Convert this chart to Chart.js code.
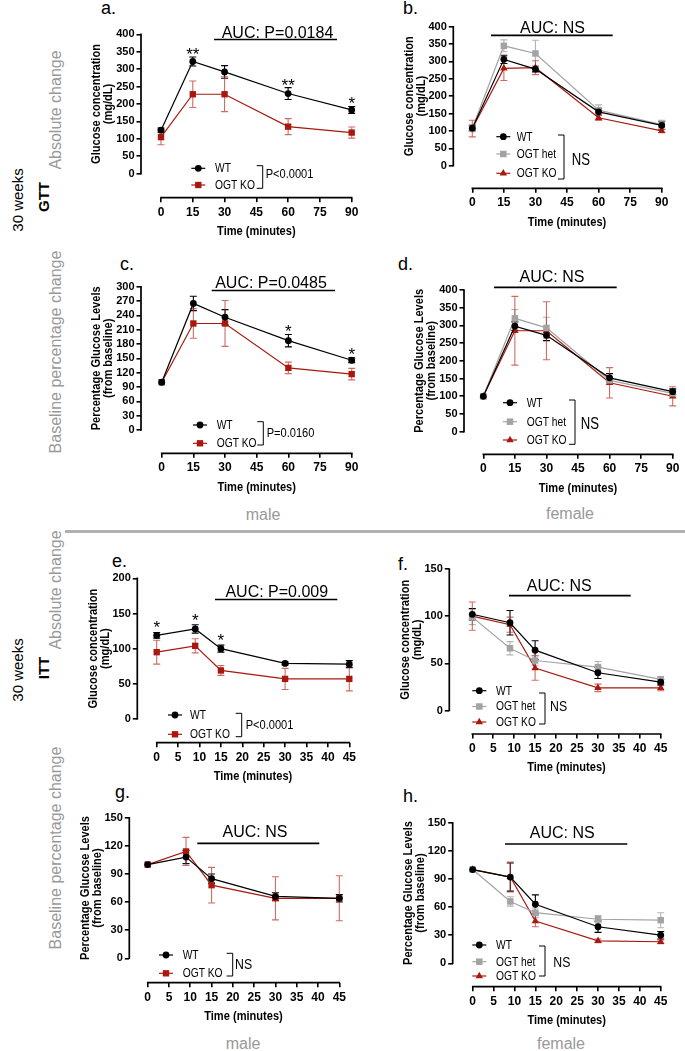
<!DOCTYPE html>
<html><head><meta charset="utf-8">
<script src="https://cdn.jsdelivr.net/npm/chart.js@4.4.0/dist/chart.umd.min.js"></script>
<style>
html,body{margin:0;padding:0;background:#fff;}
#page{position:relative;width:685px;height:1051px;overflow:hidden;background:#fff;}
#page canvas{position:absolute;left:0;top:0;}
.t{position:absolute;white-space:nowrap;font-family:'Liberation Sans',Arial,sans-serif;line-height:1;}
.rot{transform:translate(-50%,-50%) rotate(-90deg);}
.ctr{transform:translate(-50%,-50%);}
.side{font-size:16px;color:#999;}
.lbl{font-size:18px;color:#000;}
.sex{font-size:16px;color:#999;}
</style></head><body>
<div id="page">
  <div class="t rot" style="left:17px;top:200px;font-size:15px;">30 weeks</div>
  <div class="t rot" style="left:43px;top:197px;font-size:15px;font-weight:bold;">GTT</div>
  <div class="t rot side" style="left:56px;top:110px;">Absolute change</div>
  <div class="t rot side" style="left:56px;top:352px;">Baseline percentage change</div>
  <div class="t rot" style="left:17px;top:670px;font-size:15px;">30 weeks</div>
  <div class="t rot" style="left:43px;top:668px;font-size:15px;font-weight:bold;">ITT</div>
  <div class="t rot side" style="left:56px;top:590px;">Absolute change</div>
  <div class="t rot side" style="left:56px;top:848px;">Baseline percentage change</div>
  <div class="t lbl" style="left:101px;top:-1px;">a.</div>
  <div class="t lbl" style="left:403px;top:-1px;">b.</div>
  <div class="t lbl" style="left:120px;top:255px;">c.</div>
  <div class="t lbl" style="left:398px;top:255px;">d.</div>
  <div class="t lbl" style="left:112px;top:552px;">e.</div>
  <div class="t lbl" style="left:398px;top:555px;">f.</div>
  <div class="t lbl" style="left:115px;top:783px;">g.</div>
  <div class="t lbl" style="left:403px;top:787px;">h.</div>
  <div class="t ctr sex" style="left:263px;top:515px;">male</div>
  <div class="t ctr sex" style="left:570px;top:514px;">female</div>
  <div class="t ctr sex" style="left:243px;top:1044px;">male</div>
  <div class="t ctr sex" style="left:561px;top:1044px;">female</div>
  <div style="position:absolute;left:65px;top:530px;width:620px;height:3px;background:#b0b0b0;"></div>
</div>
<script>
// ---------- data ----------
const gttTime = [0, 15, 30, 60, 90];
const ittTime = [0, 9, 15, 30, 45];
const gttTicksX = [0, 15, 30, 45, 60, 75, 90];
const ittTicksX = [0, 5, 10, 15, 20, 25, 30, 35, 40, 45];
const ticks400 = [0, 50, 100, 150, 200, 250, 300, 350, 400];
const ticks300 = [0, 30, 60, 90, 120, 150, 180, 210, 240, 270, 300];
const ticks200 = [0, 50, 100, 150, 200];
const ticks150by50 = [0, 50, 100, 150];
const ticks150by30 = [0, 30, 60, 90, 120, 150];

// a. GTT absolute, male
const aWT = [125, 322, 292, 230, 183];
const aWTerr = [6, 13, 18, 17, 10];
const aKO = [105, 228, 228, 135, 118];
const aKOerr = [22, 38, 50, 23, 16];
const aStars = ['', '**', '', '**', '*'];
// b. GTT absolute, female
const bWT = [108, 306, 278, 155, 116];
const bWTerr = [8, 12, 8, 10, 12];
const bHet = [108, 345, 323, 160, 118];
const bHetErr = [10, 17, 38, 15, 13];
const bKO = [107, 280, 282, 138, 100];
const bKOerr = [24, 35, 20, 8, 5];
// c. GTT baseline %, male
const cWT = [100, 265, 236, 187, 146];
const cWTerr = [0, 15, 16, 13, 5];
const cKO = [100, 223, 223, 130, 117];
const cKOerr = [0, 31, 48, 12, 12];
const cStars = ['', '', '', '*', '*'];
// d. GTT baseline %, female
const dWT = [100, 298, 272, 152, 113];
const dWTerr = [0, 12, 15, 12, 8];
const dHet = [100, 320, 293, 145, 108];
const dHetErr = [0, 25, 30, 10, 8];
const dKO = [100, 285, 285, 138, 100];
const dKOerr = [0, 97, 82, 43, 27];
// e. ITT absolute, male
const eWT = [119, 128, 100, 79, 78];
const eWTerr = [4, 6, 5, 2, 5];
const eKO = [95, 104, 69, 57, 57];
const eKOerr = [17, 10, 7, 15, 17];
const eStars = ['*', '*', '*', '', ''];
// f. ITT absolute, female
const fWT = [102, 93, 64, 40, 30];
const fWTerr = [6, 13, 10, 6, 3];
const fHet = [99, 66, 53, 46, 33];
const fHetErr = [8, 7, 5, 6, 3];
const fKO = [100, 91, 45, 24, 24];
const fKOerr = [15, 8, 13, 4, 3];
// g. ITT baseline %, male
const gWT = [100, 108, 85, 66, 64];
const gWTerr = [0, 7, 5, 4, 4];
const gKO = [100, 114, 78, 64, 64];
const gKOerr = [0, 15, 19, 23, 24];
// h. ITT baseline %, female
const hWT = [100, 92, 63, 39, 30];
const hWTerr = [0, 15, 10, 6, 4];
const hHet = [100, 66, 54, 47, 46];
const hHetErr = [0, 5, 5, 4, 8];
const hKO = [100, 92, 45, 24, 23];
const hKOerr = [0, 16, 6, 2, 2];

// ---------- styles ----------
const FR = "'Liberation Sans',Arial,sans-serif";
const NARROW = 0.82;
const STY = {
  wt:    {color: '#000000', err: '#000000', shape: 'circle', r: 3.4},
  het:   {color: '#a3a3a3', err: '#b3b3b3', shape: 'rect', r: 4.6},
  koSq:  {color: '#a8180e', err: 'rgba(185,45,35,0.7)', shape: 'rect', r: 4.5},
  koTri: {color: '#a8180e', err: 'rgba(185,45,35,0.7)', shape: 'triangle', r: 4.3}
};
function S(label, data, err, st) { return {label, data, err, st: STY[st]}; }

function drawShape(ctx, shape, r, x, y, color) {
  ctx.fillStyle = color;
  ctx.beginPath();
  if (shape === 'circle') ctx.arc(x, y, r, 0, Math.PI * 2);
  else if (shape === 'rect') { const h = r * Math.SQRT1_2; ctx.rect(x - h, y - h, 2 * h, 2 * h); }
  else { ctx.moveTo(x, y - r); ctx.lineTo(x + r * 0.866, y + r * 0.5); ctx.lineTo(x - r * 0.866, y + r * 0.5); ctx.closePath(); }
  ctx.fill();
}
// condensed text (emulates a narrow face)
function nText(ctx, text, x, y, align, rot) {
  ctx.save();
  ctx.translate(x, y);
  if (rot) ctx.rotate(rot);
  ctx.scale(NARROW, 1);
  ctx.textAlign = align;
  ctx.fillText(text, 0, 0);
  ctx.restore();
}

function makePlugin(c) {
  return {
    id: 'deco',
    beforeDatasetsDraw(chart) {
      const {ctx} = chart, x = chart.scales.x, y = chart.scales.y;
      ctx.save();
      c.series.forEach((s) => {
        ctx.strokeStyle = s.st.err; ctx.lineWidth = 1.1;
        c.time.forEach((t, i) => {
          const e = s.err[i]; if (!e) return;
          const px = x.getPixelForValue(t);
          const top = y.getPixelForValue(s.data[i] + e), bot = y.getPixelForValue(s.data[i] - e);
          ctx.beginPath();
          ctx.moveTo(px, top); ctx.lineTo(px, bot);
          ctx.moveTo(px - 3.5, top); ctx.lineTo(px + 3.5, top);
          ctx.moveTo(px - 3.5, bot); ctx.lineTo(px + 3.5, bot);
          ctx.stroke();
        });
      });
      ctx.restore();
    },
    afterDraw(chart) {
      const {ctx, chartArea} = chart, x = chart.scales.x, y = chart.scales.y;
      const xMax = c.xTicks[c.xTicks.length - 1], yMax = c.yTicks[c.yTicks.length - 1];
      ctx.save();
      // axes lines
      ctx.strokeStyle = '#000'; ctx.lineWidth = 1.7; ctx.lineCap = 'butt';
      ctx.beginPath();
      ctx.moveTo(chartArea.left, y.getPixelForValue(0) + 0.8);
      ctx.lineTo(chartArea.left, y.getPixelForValue(yMax) - 0.8);
      ctx.moveTo(x.getPixelForValue(0) - 0.8, chartArea.bottom);
      ctx.lineTo(x.getPixelForValue(xMax) + 0.8, chartArea.bottom);
      ctx.stroke();
      // axis titles
      ctx.fillStyle = '#000';
      ctx.font = 'bold 13.5px ' + FR;
      ctx.textBaseline = 'middle';
      nText(ctx, 'Time (minutes)', (x.getPixelForValue(0) + x.getPixelForValue(xMax)) / 2, chartArea.bottom + 33.5, 'center');
      const cy = (y.getPixelForValue(0) + y.getPixelForValue(yMax)) / 2;
      c.yTitle.forEach((line, i) => {
        nText(ctx, line, chartArea.left - 44.5 + i * 12, cy, 'center', -Math.PI / 2);
      });
      // AUC annotation
      const a = c.auc;
      ctx.font = '16px ' + FR; ctx.textBaseline = 'alphabetic'; ctx.textAlign = 'center';
      ctx.fillText(a.text, a.cx, a.base);
      ctx.lineWidth = 1.7;
      ctx.beginPath(); ctx.moveTo(a.x1, a.barY); ctx.lineTo(a.x2, a.barY); ctx.stroke();
      // significance stars
      if (c.stars) {
        ctx.font = '17px ' + FR; ctx.textBaseline = 'alphabetic'; ctx.textAlign = 'center';
        const s0 = c.series[0];
        c.stars.marks.forEach((m, i) => {
          if (!m) return;
          const top = y.getPixelForValue(s0.data[i] + s0.err[i]);
          ctx.fillText(m, x.getPixelForValue(c.time[i]), top - c.stars.gap + 9.9);
        });
      }
      // legend
      const L = c.legend;
      ctx.font = '12.5px ' + FR; ctx.textBaseline = 'middle';
      c.series.forEach((s, i) => {
        const ly = L.ys[i];
        ctx.strokeStyle = s.st.color; ctx.lineWidth = 1.2;
        ctx.beginPath(); ctx.moveTo(L.mx - 7, ly); ctx.lineTo(L.mx + 7, ly); ctx.stroke();
        drawShape(ctx, s.st.shape, s.st.r, L.mx, ly, s.st.color);
        ctx.fillStyle = '#000';
        nText(ctx, s.label, L.tx, ly + 0.5, 'left');
      });
      const b = L.br;
      ctx.strokeStyle = '#000'; ctx.lineWidth = 1;
      ctx.beginPath();
      ctx.moveTo(b.x - 6, b.y1); ctx.lineTo(b.x, b.y1); ctx.lineTo(b.x, b.y2); ctx.lineTo(b.x - 6, b.y2);
      ctx.stroke();
      ctx.font = b.size + 'px ' + FR;
      nText(ctx, b.label, b.lx, b.ly, 'left');
      ctx.restore();
    }
  };
}

const page = document.getElementById('page');
function makePanel(L, c) {
  const cv = document.createElement('canvas');
  cv.width = 685; cv.height = 1051;
  cv.style.width = '685px'; cv.style.height = '1051px';
  page.appendChild(cv);
  const xMax = c.xTicks[c.xTicks.length - 1], yMax = c.yTicks[c.yTicks.length - 1];
  const xPer = (L.x1 - L.x0) / xMax, yPer = (L.y0 - L.y1) / yMax;
  const xMin = -(L.x0 - L.axX) / xPer, yMin = -(L.axY - L.y0) / yPer;
  const YW = 40, XH = 40;
  new Chart(cv, {
    type: 'line',
    data: {
      datasets: c.series.map(s => ({
        label: s.label,
        data: c.time.map((t, i) => ({x: t, y: s.data[i]})),
        borderColor: s.st.color, backgroundColor: s.st.color,
        borderWidth: 1.2, pointStyle: s.st.shape, pointRadius: s.st.r,
        pointBorderWidth: 0, pointHoverRadius: s.st.r, tension: 0, clip: false, fill: false
      }))
    },
    options: {
      responsive: false, animation: false, events: [],
      layout: {padding: {left: L.axX - YW, right: 685 - L.x1, top: L.y1, bottom: 1051 - L.axY - XH}},
      plugins: {legend: {display: false}, tooltip: {enabled: false}},
      scales: {
        x: {
          type: 'linear', min: xMin, max: xMax,
          afterBuildTicks: s => { s.ticks = c.xTicks.map(v => ({value: v})); },
          afterFit: s => { s.height = XH; },
          grid: {drawOnChartArea: false, drawTicks: true, tickLength: 4.5, lineWidth: 1.6, tickWidth: 1.6, tickColor: '#000', color: '#000'},
          border: {display: false},
          ticks: {autoSkip: false, maxRotation: 0, padding: 3, color: '#000', font: {family: FR, size: 12, weight: 'bold'}}
        },
        y: {
          type: 'linear', min: yMin, max: yMax,
          afterBuildTicks: s => { s.ticks = c.yTicks.map(v => ({value: v})); },
          afterFit: s => { s.width = YW; },
          grid: {drawOnChartArea: false, drawTicks: true, tickLength: 4.5, lineWidth: 1.6, tickWidth: 1.6, tickColor: '#000', color: '#000'},
          border: {display: false},
          ticks: {autoSkip: false, padding: 2, color: '#000', font: {family: FR, size: 11, weight: 'bold'}}
        }
      }
    },
    plugins: [makePlugin(c)]
  });
}

const gTitle = ['Glucose concentration', '(mg/dL)'];
const pTitle = ['Percentage Glucose Levels', '(from baseline)'];

makePanel({axX: 141, x0: 161, x1: 351.7, axY: 197.7, y0: 173.7, y1: 34.3}, {
  time: gttTime, xTicks: gttTicksX, yTicks: ticks400, yTitle: gTitle,
  series: [S('WT', aWT, aWTerr, 'wt'), S('OGT KO', aKO, aKOerr, 'koSq')],
  auc: {text: 'AUC: P=0.0184', cx: 277.5, base: 37.7, barY: 39.5, x1: 214, x2: 337},
  legend: {mx: 198.3, tx: 215, ys: [168.3, 185], br: {x: 262.7, y1: 165.7, y2: 188.3, label: 'P<0.0001', lx: 265.7, ly: 174.3, size: 13.5}},
  stars: {marks: aStars, gap: 7}
});
makePanel({axX: 453.3, x0: 472.3, x1: 661.7, axY: 188.3, y0: 165.7, y1: 26.7}, {
  time: gttTime, xTicks: gttTicksX, yTicks: ticks400, yTitle: gTitle,
  series: [S('WT', bWT, bWTerr, 'wt'), S('OGT het', bHet, bHetErr, 'het'), S('OGT KO', bKO, bKOerr, 'koTri')],
  auc: {text: 'AUC: NS', cx: 552.5, base: 33.3, barY: 35.3, x1: 491, x2: 612.7},
  legend: {mx: 503.3, tx: 516.7, ys: [136.7, 154, 173.3], br: {x: 564, y1: 135, y2: 179, label: 'NS', lx: 571.7, ly: 161, size: 16}}
});
makePanel({axX: 141, x0: 161.7, x1: 351.7, axY: 453.3, y0: 430, y1: 286.7}, {
  time: gttTime, xTicks: gttTicksX, yTicks: ticks300, yTitle: pTitle,
  series: [S('WT', cWT, cWTerr, 'wt'), S('OGT KO', cKO, cKOerr, 'koSq')],
  auc: {text: 'AUC: P=0.0485', cx: 271, base: 288.3, barY: 290.5, x1: 211.7, x2: 335},
  legend: {mx: 200, tx: 216.7, ys: [425, 443.3], br: {x: 263.3, y1: 421.7, y2: 445, label: 'P=0.0160', lx: 266.7, ly: 433.3, size: 13.5}},
  stars: {marks: cStars, gap: 7.5}
});
makePanel({axX: 464, x0: 483.3, x1: 672.7, axY: 454.3, y0: 431.7, y1: 290}, {
  time: gttTime, xTicks: gttTicksX, yTicks: ticks400, yTitle: pTitle,
  series: [S('WT', dWT, dWTerr, 'wt'), S('OGT het', dHet, dHetErr, 'het'), S('OGT KO', dKO, dKOerr, 'koTri')],
  auc: {text: 'AUC: NS', cx: 552, base: 282.3, barY: 287.3, x1: 494, x2: 616.7},
  legend: {mx: 510, tx: 526.7, ys: [402.7, 421.7, 440], br: {x: 575, y1: 400, y2: 444.3, label: 'NS', lx: 580.7, ly: 425, size: 16}}
});
makePanel({axX: 137.3, x0: 156.7, x1: 349.3, axY: 742.7, y0: 719, y1: 578.3}, {
  time: ittTime, xTicks: ittTicksX, yTicks: ticks200, yTitle: gTitle,
  series: [S('WT', eWT, eWTerr, 'wt'), S('OGT KO', eKO, eKOerr, 'koSq')],
  auc: {text: 'AUC: P=0.009', cx: 276.8, base: 597.3, barY: 599.5, x1: 215, x2: 337.3},
  legend: {mx: 175, tx: 190, ys: [715, 734.3], br: {x: 241.7, y1: 713.3, y2: 736.7, label: 'P<0.0001', lx: 245.7, ly: 725, size: 13.5}},
  stars: {marks: eStars, gap: 9}
});
makePanel({axX: 449.3, x0: 472.3, x1: 660.7, axY: 734, y0: 710.5, y1: 569}, {
  time: ittTime, xTicks: ittTicksX, yTicks: ticks150by50, yTitle: gTitle,
  series: [S('WT', fWT, fWTerr, 'wt'), S('OGT het', fHet, fHetErr, 'het'), S('OGT KO', fKO, fKOerr, 'koTri')],
  auc: {text: 'AUC: NS', cx: 559.2, base: 591, barY: 595.7, x1: 509, x2: 630.7},
  legend: {mx: 479.3, tx: 496, ys: [690.7, 706.5, 722], br: {x: 545, y1: 693, y2: 724, label: 'NS', lx: 550, ly: 707, size: 15}}
});
makePanel({axX: 129.3, x0: 147.7, x1: 339.3, axY: 982.7, y0: 958.3, y1: 817.7}, {
  time: ittTime, xTicks: ittTicksX, yTicks: ticks150by30, yTitle: pTitle,
  series: [S('WT', gWT, gWTerr, 'wt'), S('OGT KO', gKO, gKOerr, 'koSq')],
  auc: {text: 'AUC: NS', cx: 255, base: 836.7, barY: 843.3, x1: 197.3, x2: 319.3},
  legend: {mx: 166, tx: 182.7, ys: [955, 973.3], br: {x: 232.7, y1: 953.3, y2: 976, label: 'NS', lx: 235, ly: 965, size: 15}}
});
makePanel({axX: 452.7, x0: 472.7, x1: 660.7, axY: 986.7, y0: 963.3, y1: 822.7}, {
  time: ittTime, xTicks: ittTicksX, yTicks: ticks150by30, yTitle: pTitle,
  series: [S('WT', hWT, hWTerr, 'wt'), S('OGT het', hHet, hHetErr, 'het'), S('OGT KO', hKO, hKOerr, 'koTri')],
  auc: {text: 'AUC: NS', cx: 562.2, base: 838.3, barY: 844, x1: 505, x2: 627.3},
  legend: {mx: 479.3, tx: 496, ys: [945, 961.7, 976], br: {x: 545, y1: 946, y2: 976, label: 'NS', lx: 553.3, ly: 962.7, size: 15}}
});
</script>
</body></html>
